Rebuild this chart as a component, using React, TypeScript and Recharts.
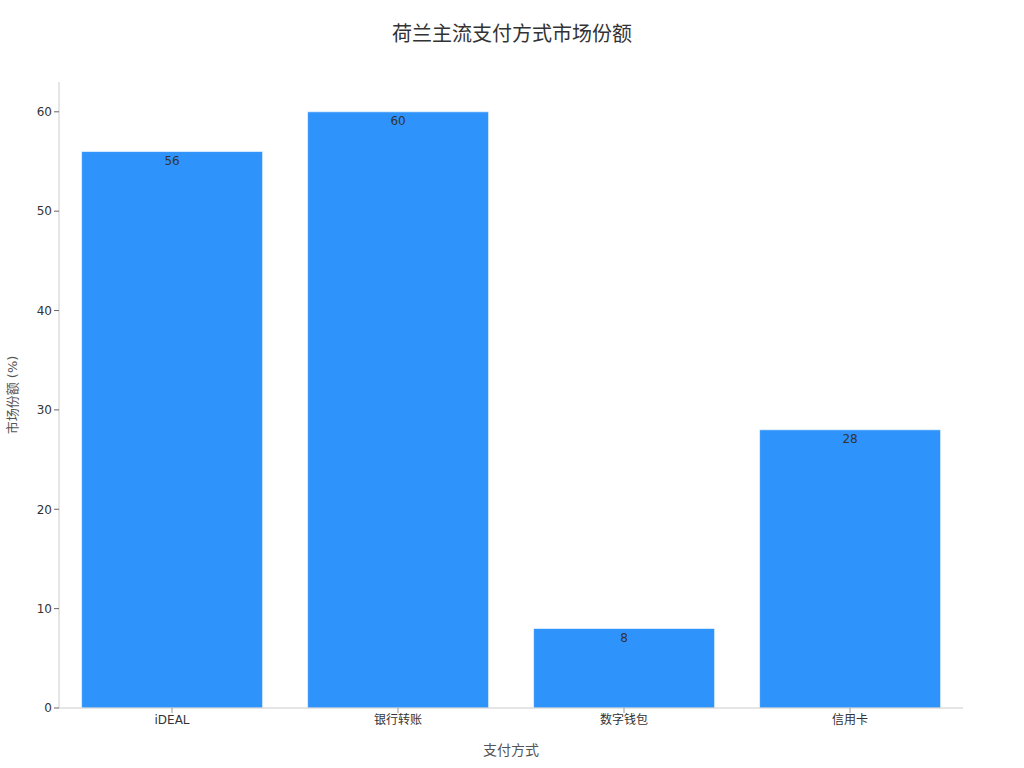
import { BarChart, Bar, XAxis, YAxis, LabelList } from "recharts";

const methods = ["iDEAL", "银行转账", "数字钱包", "信用卡"];
const shares = [56, 60, 8, 28];
const yTicks = [0, 10, 20, 30, 40, 50, 60];

const data = methods.map((name, i) => ({ name, share: shares[i] }));

const font = "'DejaVu Sans', 'Noto Sans CJK SC', sans-serif";

export default function App() {
  return (
    <div style={{ position: "absolute", left: 0, top: 0, width: 1024, height: 768, background: "#fff", fontFamily: font }}>
      <div
        style={{
          position: "absolute",
          top: 18,
          left: 0,
          width: 1024,
          textAlign: "center",
          fontSize: 20,
          color: "#333",
        }}
      >
        荷兰主流支付方式市场份额
      </div>
      <BarChart
        width={1024}
        height={768}
        data={data}
        margin={{ top: 82, right: 61, left: 9, bottom: 10 }}
        barCategoryGap="10%"
        style={{ fontFamily: font }}
      >
        <XAxis
          dataKey="name"
          height={50}
          stroke="#ccc"
          tickLine={{ stroke: "#999" }}
          tickSize={5}
          tick={{ fill: "#333", fontSize: 12 }}
          label={{ value: "支付方式", position: "insideBottom", offset: 3, fill: "#555", fontSize: 14 }}
        />
        <YAxis
          width={50}
          domain={[0, 63]}
          ticks={yTicks}
          stroke="#ccc"
          tickLine={{ stroke: "#666" }}
          tickSize={5}
          tick={{ fill: "#333", fontSize: 12 }}
          label={{
            value: "市场份额 (%)",
            angle: -90,
            position: "insideLeft",
            offset: 3,
            textAnchor: "middle",
            fill: "#555",
            fontSize: 13,
          }}
        />
        <Bar
          dataKey="share"
          fill="#2E93FA"
          stroke="#ffffff"
          strokeOpacity={0.6}
          isAnimationActive={false}
        >
          <LabelList dataKey="share" position="insideTop" fill="#333" fontSize={12} />
        </Bar>
      </BarChart>
    </div>
  );
}
